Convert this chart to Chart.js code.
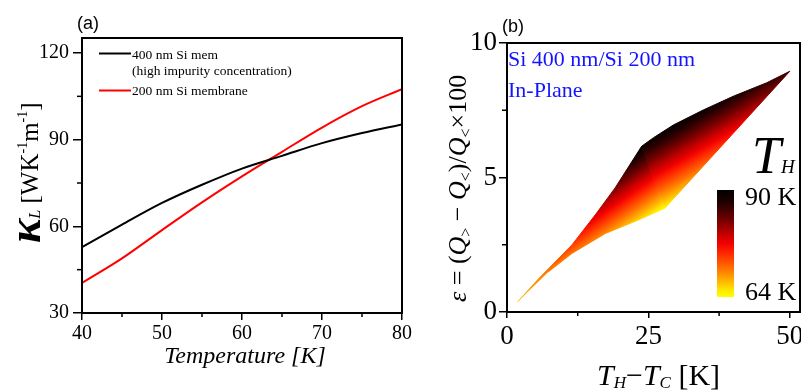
<!DOCTYPE html>
<html><head><meta charset="utf-8">
<script src="https://cdn.jsdelivr.net/npm/chart.js@4.4.1/dist/chart.umd.min.js"></script>
<style>
html,body{margin:0;padding:0;background:#fff;}
#wrap{position:relative;width:801px;height:391px;overflow:hidden;background:#fff;}
canvas{position:absolute;top:0;}
#ca{left:0;}
#cb{left:420px;}
</style></head><body>
<div id="wrap"><canvas id="ca" width="420" height="391"></canvas><canvas id="cb" width="381" height="391"></canvas></div>
<script>
// ---------- Panel (a) data ----------
const temperatureK = [40, 45, 50, 55, 60, 65, 70, 75, 80];
const kappa400nm   = [52.8, 60.6, 68.1, 74.4, 80.0, 84.4, 88.8, 92.3, 95.3];
const kappa200nm   = [40.4, 48.9, 58.7, 68.3, 77.3, 85.8, 94.2, 101.6, 107.5];
const seriesLabelsA = ['400 nm Si mem', '200 nm Si membrane'];
const legendNoteA = '(high impurity concentration)';
const xTicksA = [40, 50, 60, 70, 80];
const xMinorA = [45, 55, 65, 75];
const yTicksA = [30, 60, 90, 120];
const yMinorA = [45, 75, 105];

// ---------- Panel (b) data ----------
// upper boundary (T_H = 90 K) and lower boundary (T_H = 64 K) of the shaded family
const dT_90K  = [1.9, 5.6, 11.5, 15.6, 19.1, 23.8, 25.9, 29.4, 34.7, 40.0, 45.9, 50.0];
const eps_90K = [0.38, 1.24, 2.50, 3.61, 4.61, 6.16, 6.48, 6.95, 7.51, 8.02, 8.52, 8.95];
const dT_64K  = [1.9, 7.3, 11.5, 17.4, 23.2, 27.9, 50.0];
const eps_64K = [0.38, 1.49, 2.18, 2.92, 3.42, 3.86, 8.95];
const colorbarLabels = ['90 K', '64 K'];
const xTicksB = [0, 25, 50];
const xMinorB = [12.5, 37.5];
const yTicksB = [0, 5, 10];
const yMinorB = [2.5, 7.5];
const annotB = ['Si 400 nm/Si 200 nm', 'In-Plane'];

// colormap: 0 = 90 K (black) ... 1 = 64 K (yellow)
const heatStops = [[0,'#000000'],[0.12,'#220000'],[0.27,'#6e0000'],[0.4,'#bb0000'],[0.5,'#f20000'],[0.6,'#ff2c00'],[0.72,'#ff6a00'],[0.84,'#ffae00'],[0.94,'#ffea00'],[1,'#ffff00']];

const SERIF = 'Liberation Serif';
function runs(ctx, x, y, list) {
  let cx = x;
  list.forEach(r => {
    ctx.font = r.f;
    ctx.fillText(r.t, cx, y + (r.dy || 0));
    cx += ctx.measureText(r.t).width;
  });
}
function minorTicks(chart, xs, ys, lx, ly) {
  const ctx = chart.ctx, sx = chart.scales.x, sy = chart.scales.y, a = chart.chartArea;
  ctx.save(); ctx.strokeStyle = '#000'; ctx.lineWidth = 1.5;
  xs.forEach(v => { const p = sx.getPixelForValue(v); ctx.beginPath(); ctx.moveTo(p, a.bottom); ctx.lineTo(p, a.bottom + lx); ctx.stroke(); });
  ys.forEach(v => { const p = sy.getPixelForValue(v); ctx.beginPath(); ctx.moveTo(a.left, p); ctx.lineTo(a.left - ly, p); ctx.stroke(); });
  ctx.restore();
}
function box(chart) {
  const ctx = chart.ctx, a = chart.chartArea;
  ctx.save(); ctx.strokeStyle = '#000'; ctx.lineWidth = 2;
  ctx.strokeRect(a.left, a.top, a.right - a.left, a.bottom - a.top);
  ctx.restore();
}
function axisX(min, max, ticks, tl, pad, size, h) {
  return {
    type: 'linear', min: min, max: max,
    afterBuildTicks: s => { s.ticks = ticks.map(v => ({ value: v })); },
    afterFit: s => { s.height = h; s.paddingLeft = 0; s.paddingRight = 0; },
    grid: { display: true, drawOnChartArea: false, drawTicks: true, tickLength: tl, color: '#000', lineWidth: 1.5 },
    border: { display: false },
    ticks: { color: '#000', font: { family: SERIF, size: size }, padding: pad, maxRotation: 0, autoSkip: false }
  };
}
function axisY(min, max, ticks, tl, pad, size, w) {
  return {
    type: 'linear', min: min, max: max,
    afterBuildTicks: s => { s.ticks = ticks.map(v => ({ value: v })); },
    afterFit: s => { s.width = w; s.paddingTop = 0; s.paddingBottom = 0; },
    grid: { display: true, drawOnChartArea: false, drawTicks: true, tickLength: tl, color: '#000', lineWidth: 1.5 },
    border: { display: false },
    ticks: { color: '#000', font: { family: SERIF, size: size }, padding: pad, autoSkip: false }
  };
}

// ---------- Chart (a) ----------
const decorA = {
  id: 'decorA',
  afterDraw(chart) {
    const ctx = chart.ctx;
    box(chart);
    minorTicks(chart, xMinorA, yMinorA, 4, 5);
    ctx.save();
    ctx.fillStyle = '#000'; ctx.textBaseline = 'alphabetic';
    ctx.font = '18px Liberation Sans'; ctx.fillText('(a)', 77, 29);
    const ds = chart.data.datasets;
    const rows = [[ds[0].borderColor, ds[0].label, 58.5, 53.5], [null, legendNoteA, 75, 0], [ds[1].borderColor, ds[1].label, 95, 90.5]];
    ctx.font = '13.5px ' + SERIF;
    rows.forEach(r => {
      if (r[0]) { ctx.strokeStyle = r[0]; ctx.lineWidth = 2; ctx.beginPath(); ctx.moveTo(99, r[3]); ctx.lineTo(131, r[3]); ctx.stroke(); }
      ctx.fillText(r[1], 132, r[2]);
    });
    ctx.font = 'italic 24px ' + SERIF; ctx.textAlign = 'center';
    ctx.fillText('Temperature [K]', 245, 363);
    ctx.textAlign = 'left';
    ctx.translate(38, 243); ctx.rotate(-Math.PI / 2);
    runs(ctx, 0, 0, [
      { t: 'κ', f: 'italic bold 46px ' + SERIF, dy: 2 },
      { t: 'L', f: 'italic 16px ' + SERIF, dy: 2 },
      { t: ' [WK', f: '25px ' + SERIF },
      { t: '-1', f: '14px ' + SERIF, dy: -11 },
      { t: 'm', f: '25px ' + SERIF },
      { t: '-1', f: '14px ' + SERIF, dy: -11 },
      { t: ']', f: '25px ' + SERIF }
    ]);
    ctx.restore();
  }
};
new Chart(document.getElementById('ca'), {
  type: 'line',
  data: {
    datasets: [
      { label: seriesLabelsA[0], data: temperatureK.map((t, i) => ({ x: t, y: kappa400nm[i] })), borderColor: '#000000', borderWidth: 2, pointRadius: 0, cubicInterpolationMode: 'monotone', fill: false },
      { label: seriesLabelsA[1], data: temperatureK.map((t, i) => ({ x: t, y: kappa200nm[i] })), borderColor: '#ff0000', borderWidth: 2, pointRadius: 0, cubicInterpolationMode: 'monotone', fill: false }
    ]
  },
  options: {
    responsive: false, animation: false, devicePixelRatio: 1,
    layout: { padding: { left: 0, top: 38, right: 18, bottom: 0 } },
    plugins: { legend: { display: false }, tooltip: { enabled: false } },
    scales: {
      x: axisX(40, 80, xTicksA, 7, 2, 20, 78),
      y: axisY(30, 125.2, yTicksA, 9, 4, 20, 82)
    }
  },
  plugins: [decorA]
});

// ---------- Chart (b) ----------
// kink of the 90 K boundary and of the 64 K boundary split the band in two parts
const kTop = 5, kBot = 5;
const pts = (xs, ys) => xs.map((x, i) => ({ x: x, y: ys[i] }));
const top90 = pts(dT_90K, eps_90K), bot64 = pts(dT_64K, eps_64K);
const lowerBand = top90.slice(0, kTop + 1).concat(bot64.slice(1, kBot + 1).reverse());
const upperBand = top90.slice(kTop).concat([bot64[kBot]]);

// linear colour ramp: t=0 at projection c0, t=1 at projection c1 (pixels, measured from the 90 K kink)
function ramp(chart, angleDeg, c0, c1) {
  const sx = chart.scales.x, sy = chart.scales.y;
  const kx = sx.getPixelForValue(top90[kTop].x), ky = sy.getPixelForValue(top90[kTop].y);
  if (!isFinite(kx) || !isFinite(ky)) return '#ff3000';
  const th = angleDeg * Math.PI / 180, dx = Math.sin(th), dy = Math.cos(th);
  const g = chart.ctx.createLinearGradient(kx + c0 * dx, ky + c0 * dy, kx + c1 * dx, ky + c1 * dy);
  heatStops.forEach(s => g.addColorStop(s[0], s[1]));
  return g;
}
const gradB = {
  id: 'gradB',
  afterLayout(chart) {
    const d = chart.data.datasets;
    const g0 = ramp(chart, 35, 0, 65), g1 = ramp(chart, 30, -4, 68);
    d[0].backgroundColor = g0; d[0].borderColor = g0;
    d[1].backgroundColor = g1; d[1].borderColor = g1;
  }
};
const decorB = {
  id: 'decorB',
  afterDraw(chart) {
    const ctx = chart.ctx;
    box(chart);
    minorTicks(chart, xMinorB, yMinorB, 4, 5);
    ctx.save();
    ctx.fillStyle = '#000'; ctx.textBaseline = 'alphabetic';
    ctx.font = '18px Liberation Sans'; ctx.fillText('(b)', 82, 32);
    ctx.fillStyle = '#1414ff'; ctx.font = '22px ' + SERIF;
    ctx.fillText(annotB[0], 88, 66);
    ctx.fillText(annotB[1], 88, 97);
    ctx.fillStyle = '#000';
    runs(ctx, 332, 173, [{ t: 'T', f: 'italic 52px ' + SERIF }, { t: 'H', f: 'italic 19px ' + SERIF }]);
    const cg = ctx.createLinearGradient(0, 190, 0, 297);
    heatStops.forEach(s => cg.addColorStop(s[0], s[1]));
    ctx.fillStyle = cg; ctx.fillRect(297, 190, 17, 107);
    ctx.fillStyle = '#000'; ctx.font = '26px ' + SERIF;
    ctx.fillText(colorbarLabels[0], 325, 205);
    ctx.fillText(colorbarLabels[1], 325, 300);
    runs(ctx, 177, 385, [
      { t: 'T', f: 'italic 30px ' + SERIF }, { t: 'H', f: 'italic 17px ' + SERIF, dy: 3 },
      { t: '−', f: '30px ' + SERIF },
      { t: 'T', f: 'italic 30px ' + SERIF }, { t: 'C', f: 'italic 17px ' + SERIF, dy: 3 },
      { t: ' [K]', f: '30px ' + SERIF }
    ]);
    ctx.translate(46, 302); ctx.rotate(-Math.PI / 2);
    const R = '26px ' + SERIF, I = 'italic 26px ' + SERIF, S = '16px ' + SERIF;
    runs(ctx, 0, 0, [
      { t: 'ε', f: I }, { t: ' = (', f: R }, { t: 'Q', f: I }, { t: '>', f: S, dy: 5 },
      { t: ' − ', f: R }, { t: 'Q', f: I }, { t: '<', f: S, dy: 5 }, { t: ')/', f: R },
      { t: 'Q', f: I }, { t: '<', f: S, dy: 5 }, { t: '×100', f: R }
    ]);
    ctx.restore();
  }
};
const bandStyle = { fill: 'shape', backgroundColor: '#ff3000', borderColor: '#ff3000', borderWidth: 1, pointRadius: 0, tension: 0 };
new Chart(document.getElementById('cb'), {
  type: 'line',
  data: {
    datasets: [
      Object.assign({ label: 'T_H 64–90 K (ΔT ≤ kink)', data: lowerBand }, bandStyle),
      Object.assign({ label: 'T_H 64–90 K (ΔT ≥ kink)', data: upperBand }, bandStyle)
    ]
  },
  options: {
    responsive: false, animation: false, devicePixelRatio: 1,
    layout: { padding: { left: 0, top: 43, right: 1, bottom: 0 } },
    plugins: { legend: { display: false }, tooltip: { enabled: false } },
    scales: {
      x: axisX(0, 51.8, xTicksB, 6, 3, 27, 79),
      y: axisY(0, 10, yTicksB, 8, 2, 27, 87)
    }
  },
  plugins: [gradB, decorB]
});
</script>
</body></html>
